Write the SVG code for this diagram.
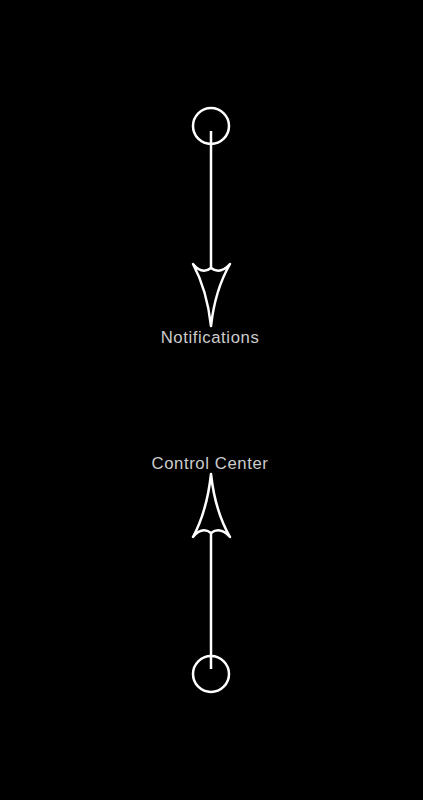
<svg xmlns="http://www.w3.org/2000/svg" width="423" height="800" viewBox="0 0 423 800">
<style>
.s{fill:none;stroke:#fff;stroke-width:2.5;stroke-linejoin:round}
.t{font-family:"Liberation Sans",Arial,sans-serif;font-size:16.7px;fill:#cccccc;letter-spacing:0.6px;text-anchor:middle}
</style>
<rect width="423" height="800" fill="#000"/>
<g id="connectors">
<line class="s" x1="211" y1="131" x2="211" y2="268"/>
<path class="s" d="M193,264 Q202,275 211,268 Q220,275 230,264 Q215,290 211,326 Q207,290 193,264 Z"/>
<line class="s" x1="211" y1="533" x2="211" y2="669"/>
<path class="s" d="M193,537 Q202,526 211,533 Q220,526 230,537 Q215,511 211,474 Q207,511 193,537 Z"/>
</g>
<g id="top-start"><circle class="s" cx="211" cy="126" r="18"/></g>
<g id="notifications"><text class="t" x="210" y="343">Notifications</text></g>
<g id="control-center"><text class="t" x="210" y="469">Control Center</text></g>
<g id="bottom-start"><circle class="s" cx="211" cy="674" r="18"/></g>
</svg>
